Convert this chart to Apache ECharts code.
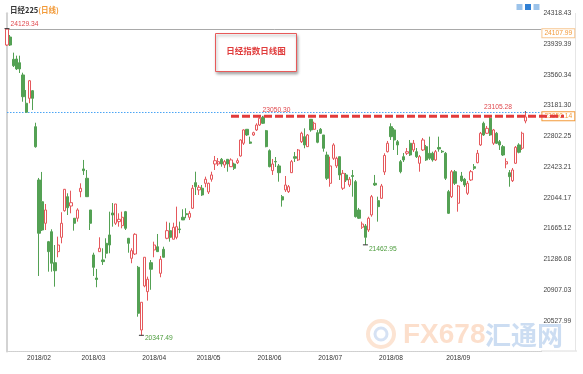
<!DOCTYPE html>
<html><head><meta charset="utf-8">
<script src="https://cdn.jsdelivr.net/npm/echarts@6/dist/echarts.min.js"></script>
<style>html,body{margin:0;padding:0;background:#fff}#c{width:583px;height:374px}</style>
</head><body><div id="c"></div>
<script>
// ---- data ----
const opens = [
23927,24026,23751,23755,23709,23558,23209,23270,23364,22920,
22263,21995,21729,21502,21625,21243,21379,21556,21884,22057,
21942,21791,21791,22119,22399,22284,21893,21338,21054,21379,
21277,21482,21585,21856,21729,21749,21700,21872,21544,21297,
21350,21186,20413,20956,20886,21243,21400,21440,21112,21408,
21544,21638,21532,21556,21659,21803,21847,21803,21914,22230,
22140,22161,22222,22115,22272,22460,22460,22518,22448,22518,
22427,22460,22476,22559,22716,22888,22732,22818,22880,22941,
23034,22871,22624,22378,22491,22436,22057,22140,22119,22353,
22550,22510,22735,22797,22674,23011,22888,22846,22888,22818,
22571,22222,22530,22436,22550,22161,22325,22201,22318,22242,
21893,21680,21696,21646,21832,22222,22008,22037,22362,22612,
22920,22880,22735,22489,22550,22592,22716,22633,22612,22469,
22633,22674,22592,22592,22510,22664,22617,22592,22119,22057,
22365,21976,22312,22272,22099,22263,22427,22476,22695,22962,
22839,23024,22716,22839,22735,22674,22460,22353,22254,22469,
22695,22654,22990];
const closes = [
24124,23927,23672,23632,23632,23290,23098,23487,23270,22673,
21606,21646,21893,21379,21236,21144,21461,21729,22148,21921,
21983,21729,21893,22160,22378,22057,21729,21186,21036,21421,
21256,21359,21461,21831,21967,21778,21803,21667,21482,21391,
21593,20619,20755,21310,21039,21162,21461,21379,21285,21310,
21638,21556,21680,21687,21651,21770,21835,21852,22161,22180,
22173,22078,22272,22222,22325,22501,22489,22460,22489,22460,
22510,22407,22501,22756,22880,22818,22716,22846,22941,23024,
22962,22674,22427,22460,22485,22353,22016,22201,22180,22489,
22531,22633,22839,22695,22818,22880,22962,22728,22839,22654,
22284,22436,22695,22530,22325,22345,22263,22272,22306,21811,
21791,21720,21556,21791,22057,22201,21934,22189,22565,22716,
22797,22756,22695,22365,22510,22612,22571,22716,22550,22550,
22756,22510,22530,22510,22612,22645,22609,22284,21852,22365,
22222,22189,22254,22201,22222,22365,22407,22592,22839,22818,
22900,22818,22880,22716,22695,22571,22489,22304,22386,22666,
22605,22839,23040];
const lows = [
23915,23915,23656,23619,23582,23228,23095,23209,23126,22661,
21079,21634,21646,21132,21132,20947,21310,21482,21872,21831,
21852,21638,21749,22050,22325,22053,21646,21079,20940,21379,
21215,21297,21359,21687,21708,21687,21667,21646,21366,21236,
21338,20577,20347.49,20940,20775,20909,21310,21375,21063,21307,
21532,21502,21532,21532,21606,21770,21791,21770,21905,22078,
22078,22066,22173,22090,22242,22386,22436,22427,22411,22365,
22423,22386,22460,22550,22695,22806,22707,22806,22867,22929,
22953,22666,22419,22325,22423,22242,21934,22115,22103,22349,
22485,22497,22719,22654,22670,22858,22880,22716,22830,22612,
22263,22180,22510,22411,22263,22140,22238,22176,22057,21800,
21782,21659,21462.95,21622,21810,22189,21749,22029,22325,22602,
22756,22633,22571,22345,22485,22571,22559,22608,22534,22365,
22620,22497,22510,22489,22497,22612,22596,22263,21844,22041,
22201,21872,22238,22176,22078,22251,22386,22469,22682,22806,
22830,22806,22695,22707,22633,22559,22407,22180,22238,22460,
22592,22633,22962];
const highs = [
24129.34,24051,23833,23796,23796,23586,23372,23496,23372,22969,
22288,22362,21967,21511,21655,21461,21564,21865,22152,22099,
22131,21794,21914,22222,22510,22386,21893,21366,21166,21556,
21421,21544,21872,21979,21967,21852,21872,21881,21548,21421,
21606,21203,20755,21310,21071,21276,21502,21597,21326,21440,
21749,21736,21736,21934,21749,21902,21914,21881,22201,22365,
22201,22201,22304,22230,22365,22559,22534,22534,22510,22518,
22530,22476,22530,22765,22888,22888,22797,22858,22962,23044,
23050.30,22880,22641,22522,22546,22460,22078,22312,22201,22510,
22608,22645,22858,22900,22830,23015,22982,22880,22904,22818,
22612,22550,22716,22550,22550,22386,22349,22300,22386,22263,
21918,21749,21720,21810,22078,22325,22057,22214,22592,22744,
22962,22904,22756,22510,22596,22657,22756,22756,22657,22571,
22781,22695,22797,22612,22633,22797,22633,22608,22140,22386,
22386,22201,22362,22288,22251,22386,22460,22633,22855,22982,
22929,23044,22892,22855,22756,22695,22530,22386,22411,22682,
22716,22858,23105.28];
const slotCount = 168;                 // category slots on the x axis (last few empty)
const monthLabels = ['2018/02','2018/03','2018/04','2018/05','2018/06','2018/07','2018/08','2018/09'];
const monthLabelSlots = [10, 27, 46, 63, 82, 101, 120, 141];
const yTickLabels = ['20527.99','20907.03','21286.08','21665.12','22044.17','22423.21','22802.25','23181.30','23560.34','23939.39','24318.43'];
const highMark = 24129.34, lowMark = 20347.49, lowMark2 = 21462.95, peakMark = 23050.30, lastHigh = 23105.28;
const tagTop = 24107.99, resistance = 23050.14;
const resistanceStartSlot = 70;

// ---- build ----
const categories = [];
for (let i = 0; i < slotCount; i++) categories.push(String(i));
const kData = opens.map((o, i) => [o, closes[i], lows[i], highs[i]]);
const yStep = (parseFloat(yTickLabels[10]) - parseFloat(yTickLabels[0])) / 10;
const yMin = parseFloat(yTickLabels[0]) - yStep;
const yMax = parseFloat(yTickLabels[10]);
const NUM = '"Liberation Sans", Arial, sans-serif';
const CJK = '"Noto Sans CJK SC", sans-serif';
const RED = '#e5585c', GREEN = '#54a154';

const chart = echarts.init(document.getElementById('c'), null, {renderer: 'canvas'});
function mp(idx, val, color, pos, off, sym) {
  return {coord: [idx, val], value: val.toFixed(2), symbol: 'rect', symbolSize: sym || [5, 1],
    itemStyle: {color: '#333'},
    label: {show: true, position: pos, distance: 1, offset: off, color: color,
      fontSize: 6.7, fontFamily: NUM, formatter: '{c}'}};
}
function tag(val, border, off) {
  return {type: 'line', data: [], xAxisIndex: 0, yAxisIndex: 0, z: 4, silent: true,
    markLine: {silent: true, symbol: 'none', animation: false,
      lineStyle: {color: 'rgba(0,0,0,0)', width: 1},
      label: {show: true, position: 'end', distance: 1, offset: off, formatter: val.toFixed(2),
        color: '#f39a3a', fontSize: 6.7, fontFamily: NUM, backgroundColor: '#fff',
        borderColor: border, borderWidth: 1, padding: [1, 2, 0, 2]},
      data: [{yAxis: val}]}};
}
const graphics = [
  {type: 'line', shape: {x1: 541, y1: 351, x2: 577, y2: 351}, style: {stroke: '#dcdcdc', lineWidth: 1}, silent: true},
  {type: 'line', shape: {x1: 575.5, y1: 13, x2: 575.5, y2: 351}, style: {stroke: '#e6e6e6', lineWidth: 1}, silent: true},
  {type: 'rect', shape: {x: 516.5, y: 4, width: 6, height: 6}, style: {fill: '#9cc3ea'}, silent: true},
  {type: 'rect', shape: {x: 525, y: 4, width: 6, height: 6}, style: {fill: '#2f7fd4'}, silent: true},
  {type: 'rect', shape: {x: 533.5, y: 4, width: 6, height: 6}, style: {fill: '#9cc3ea'}, silent: true},
  {type: 'rect', shape: {x: 215.5, y: 33.5, width: 81, height: 38}, z: 20,
    style: {fill: '#fff', stroke: '#e85a5a', lineWidth: 1, shadowBlur: 3, shadowOffsetX: 1, shadowOffsetY: 2, shadowColor: 'rgba(0,0,0,0.35)'}, silent: true},
  {type: 'text', x: 256, y: 51, z: 21, style: {text: '日经指数日线图', fill: '#e03c3c', font: 'bold 8.5px "Noto Sans CJK SC"', align: 'center', verticalAlign: 'middle'}, silent: true},
  {type: 'circle', shape: {cx: 381, cy: 334, r: 13}, style: {fill: 'none', stroke: 'rgba(244,164,110,0.3)', lineWidth: 4}, silent: true},
  {type: 'circle', shape: {cx: 381, cy: 334, r: 6}, style: {fill: 'none', stroke: 'rgba(120,160,220,0.3)', lineWidth: 3}, silent: true},
  {type: 'text', x: 403, y: 335, style: {text: 'FX678', fill: 'rgba(246,170,120,0.38)', font: 'bold 28px "Liberation Sans"', verticalAlign: 'middle'}, silent: true},
  {type: 'text', x: 485, y: 335, style: {text: '汇通网', fill: 'rgba(120,165,220,0.38)', font: 'bold 26px "Noto Sans CJK SC"', verticalAlign: 'middle'}, silent: true}
];
chart.setOption({
  animation: false,
  backgroundColor: '#fff',
  title: {left: 5, top: 1, text: '{a|日经225}{b|(日线)}',
    textStyle: {rich: {a: {fontSize: 7.5, color: '#333', fontFamily: CJK}, b: {fontSize: 7.5, color: '#f29a38', fontFamily: CJK}}}},
  grid: {left: 7, right: 41.6, top: 13.3, bottom: 22.6},
  xAxis: [{
    type: 'category', data: categories, boundaryGap: false,
    axisLine: {lineStyle: {color: '#dcdcdc'}}, axisTick: {show: false},
    axisLabel: {interval: (i) => monthLabelSlots.indexOf(i) >= 0,
      formatter: (v, i) => { const k = monthLabelSlots.indexOf(i); return k >= 0 ? monthLabels[k] : ''; },
      color: '#333', fontSize: 6.6, fontFamily: NUM, margin: 3},
    splitLine: {show: false}
  }, {
    type: 'value', position: 'top', min: 0, max: 1,
    axisLine: {show: true, lineStyle: {color: '#cfcfcf', type: 'dotted'}},
    axisTick: {show: false}, axisLabel: {show: false}, splitLine: {show: false}
  }],
  yAxis: [{
    type: 'value', position: 'right', min: yMin, max: yMax, scale: true,
    axisLine: {show: true, lineStyle: {color: '#cfcfcf', type: 'dotted'}},
    axisTick: {show: false}, axisLabel: {show: false}, splitLine: {show: false}
  }, {
    type: 'value', position: 'right', min: 0, max: 11, interval: 1,
    axisLine: {show: false}, axisTick: {show: false}, splitLine: {show: false},
    axisLabel: {show: true, margin: 2, color: '#444', fontSize: 6.7, fontFamily: NUM, showMinLabel: false,
      formatter: (v) => v >= 1 ? yTickLabels[Math.round(v) - 1] : ''}
  }, {
    type: 'value', position: 'left', min: 0, max: 1,
    axisLine: {show: true, lineStyle: {color: '#d3d3d3', width: 2}},
    axisTick: {show: false}, axisLabel: {show: false}, splitLine: {show: false}
  }],
  series: [{
    type: 'candlestick', name: '日经225', data: kData, barWidth: 2.7,
    xAxisIndex: 0, yAxisIndex: 0, z: 3,
    itemStyle: {color: '#ffffff', color0: GREEN, borderColor: RED, borderColor0: GREEN, borderWidth: 1},
    markPoint: {animation: false, silent: true,
      data: [
        mp(0, highMark, '#e0474c', 'right', [0, -4]),
        mp(42, lowMark, '#4c9c3c', 'right', [0, 2.5]),
        mp(112, lowMark2, '#4c9c3c', 'right', [0, 4]),
        mp(80, peakMark, '#e0474c', 'right', [-2, -6], [1, 1]),
        mp(162, lastHigh, '#e0474c', 'left', [-12, -5], [1, 1])
      ]}
  },
  tag(tagTop, '#f7c690', [0, 3]),
  tag(resistance, '#f39a3a', [0, 0])
  ],
  graphic: graphics
});
// horizontal reference lines placed through the chart's own scales
const conv = (slot, val) => chart.convertToPixel({xAxisIndex: 0, yAxisIndex: 0}, [slot, val]);
const gL = conv(0, highMark), gR = conv(slotCount - 1, highMark);
const yHigh = Math.round(gL[1]) + 0.5;
graphics.push({type: 'line', z: 2, silent: true,
  shape: {x1: gL[0], y1: yHigh, x2: gR[0], y2: yHigh},
  style: {stroke: '#a9a9a9', lineWidth: 1}});
const yLast = Math.round(conv(0, lastHigh)[1]) + 0.5;
graphics.push({type: 'line', z: 2, silent: true,
  shape: {x1: gL[0], y1: yLast, x2: gR[0], y2: yLast},
  style: {stroke: '#4aa5f5', lineWidth: 1, lineDash: [1.5, 1.5]}});
const p0 = conv(resistanceStartSlot, resistance);
graphics.push({type: 'line', z: 30, silent: true,
  shape: {x1: p0[0], y1: p0[1], x2: 564, y2: p0[1]},
  style: {stroke: '#e23c3c', lineWidth: 3, lineDash: [8, 3]}});
chart.setOption({graphic: graphics});
</script></body></html>
